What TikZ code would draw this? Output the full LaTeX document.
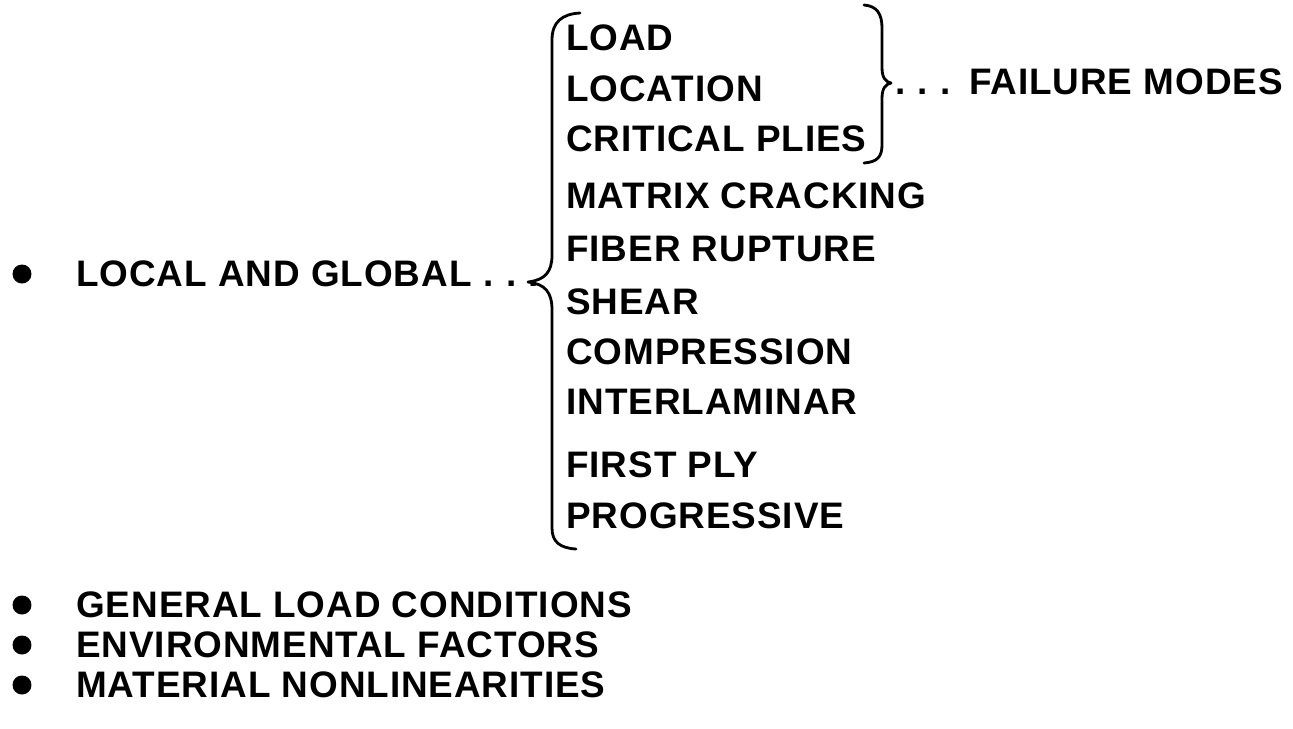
\documentclass[tikz,border=0pt]{standalone}
\usepackage{fontspec}
\setmainfont[LetterSpace=2.5]{Liberation Sans}
\usepackage{tikz}

\tikzset{
  item/.style={anchor=base west,inner sep=0pt,font=\bfseries\fontsize{21}{25}\selectfont},
  dot/.style={circle,fill,inner sep=0pt,minimum size=0.38cm},
  brace/.style={line width=1.6pt,line cap=round,line join=round}
}

\begin{document}
\begin{tikzpicture}[x=0.02cm,y=-0.02cm]
            \useasboundingbox (0,0) rectangle (1293,728);

            % Bullets
            \node[dot] (b1) at (22,274) {};
            \node[dot] (b2) at (22,605) {};
            \node[dot] (b3) at (22,645) {};
            \node[dot] (b4) at (22,685) {};

            % Left column
            \node[item] (local) at (76,286) {LOCAL AND GLOBAL\,\,.\,\,.\,\,.};
            \node[item] (general) at (76,617) {GENERAL LOAD CONDITIONS};
            \node[item] (environ) at (76,657) {ENVIRONMENTAL FACTORS};
            \node[item] (material) at (76,697) {MATERIAL NONLINEARITIES};

            % Right column
            \node[item] (load) at (566,50) {LOAD};
            \node[item] (location) at (566,101) {LOCATION};
            \node[item] (critical) at (566,151) {CRITICAL PLIES};
            \node[item] (matrix) at (566,208) {MATRIX CRACKING};
            \node[item] (fiber) at (566,261) {FIBER RUPTURE};
            \node[item] (shear) at (566,314) {SHEAR};
            \node[item] (compr) at (566,364) {COMPRESSION};
            \node[item] (inter) at (566,414) {INTERLAMINAR};
            \node[item] (first) at (566,477) {FIRST PLY};
            \node[item] (progr) at (566,528) {PROGRESSIVE};
            \node[item] (failure) at (895,94) {.\,\,.\,\,.\,\,\,FAILURE MODES};

            % Braces
            \draw[brace] (580,13) .. controls (562,14) and (552,22) .. (552,40)
              -- (552,255) .. controls (552,272) and (545,280) .. (528,282)
              .. controls (545,284) and (552,292) .. (552,310)
              -- (552,528) .. controls (552,542) and (560,548) .. (576,549);
            \draw[brace] (864,5) .. controls (877,6) and (882,14) .. (882,28)
              -- (882,68) .. controls (882,78) and (886,82) .. (891,83)
              .. controls (886,84) and (882,88) .. (882,98)
              -- (882,145) .. controls (882,157) and (877,162) .. (864,163);
        \end{tikzpicture}
\end{document}
